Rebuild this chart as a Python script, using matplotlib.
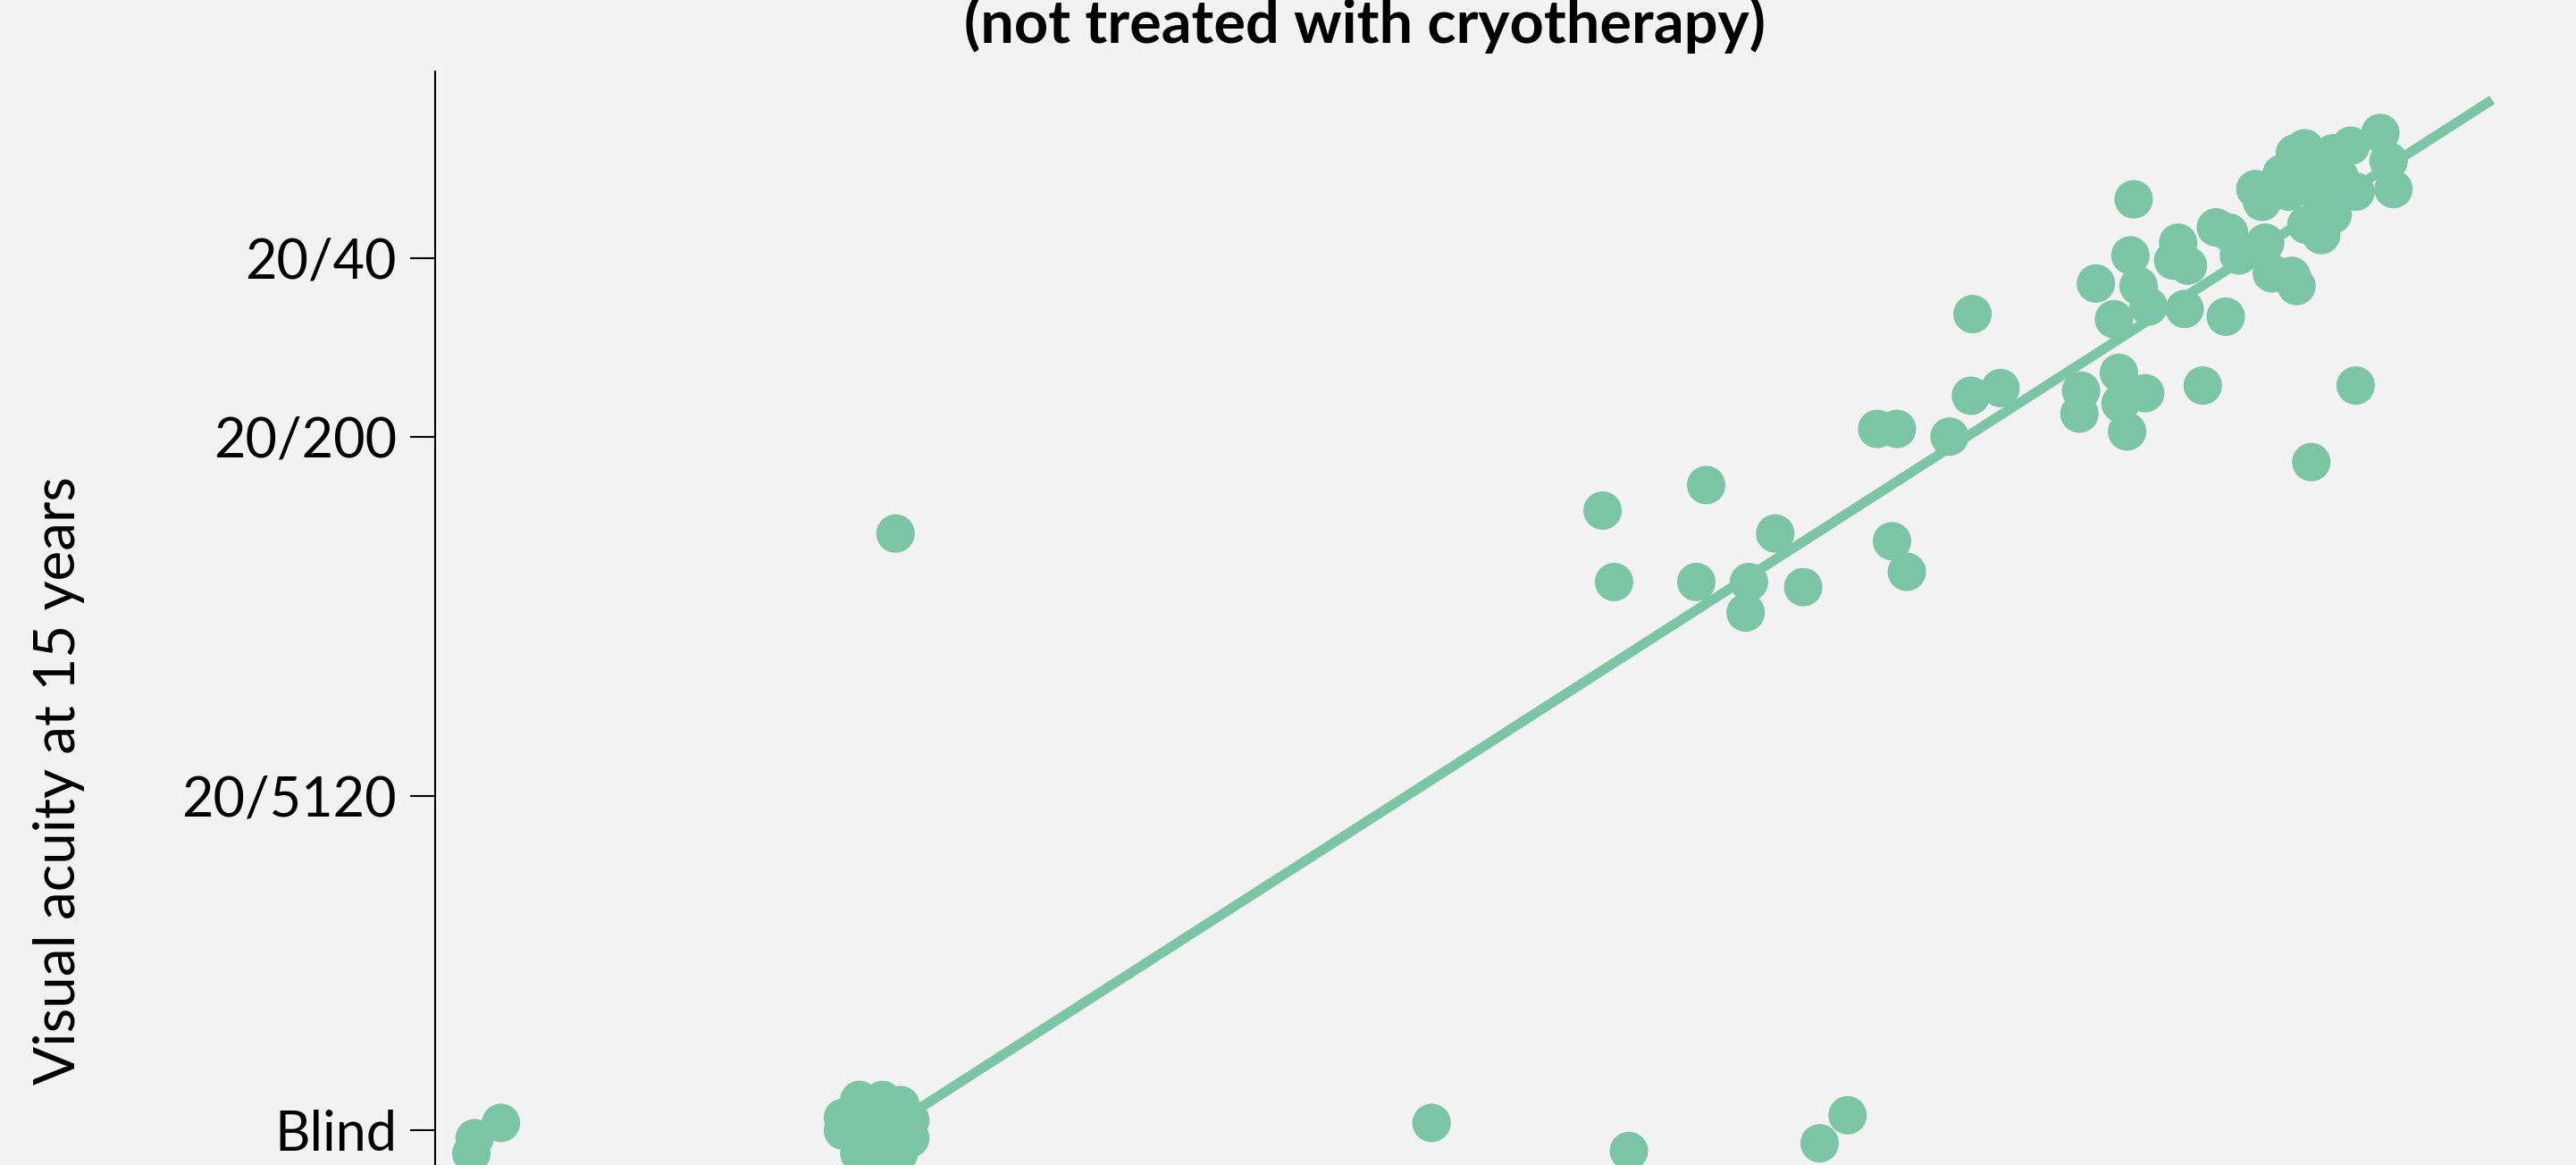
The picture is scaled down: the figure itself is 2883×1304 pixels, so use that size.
import matplotlib
matplotlib.use("Agg")
import matplotlib.pyplot as plt

# --- Data ---
# x: baseline score (arbitrary units), y: logMAR-style acuity at 15 years
upper_x = [10.33, 10.31, 10.10, 10.36, 10.42, 10.21, 10.64, 10.89, 10.60, 10.57,
           10.66, 10.83, 10.91, 10.97, 11.13, 11.17, 11.29, 11.32, 11.07, 11.11,
           11.23, 11.31, 11.37, 11.54, 11.65, 11.83, 11.88, 11.91, 11.68, 11.38,
           11.47, 11.47, 11.38, 11.45, 11.58, 11.27, 11.54]
upper_y = [0.07, 0.29, 0.40, 0.41, 0.49, 0.54, 0.50, 0.53, 0.24, 0.31,
           0.33, 0.18, 0.20, 0.29, 0.24, 0.36, 0.37, 0.41, 0.03, 0.08,
           -0.03, -0.11, -0.13, -0.11, -0.14, -0.19, -0.08, 0.03, 0.04, 0.17,
           0.21, 0.07, 0.00, -0.06, -0.02, 0.04, 0.13]

mid_x = [9.52, 10.01, 10.00, 10.24, 10.40, 10.25, 10.29, 10.75, 11.68, 11.41,
         9.35, 9.34, 8.77, 8.89, 9.21, 7.73, 7.10, 8.15, 8.86, 8.95,
         7.17, 7.67, 7.99, 8.32, 7.97, 2.80]
mid_y = [0.81, 0.82, 0.91, 0.75, 0.83, 0.87, 0.98, 0.80, 0.80, 1.10,
         0.52, 0.84, 0.97, 0.97, 1.00, 1.19, 1.29, 1.38, 1.41, 1.53,
         1.57, 1.57, 1.57, 1.59, 1.69, 1.38]

blind_x = [0.40, 0.24, 0.22,
           2.58, 2.72, 2.83, 2.48, 2.48, 2.89, 2.89, 2.58, 2.82, 2.71,
           2.68, 2.57, 2.79, 2.71,
           6.06, 7.26, 8.42, 8.59]
blind_y = [3.69, 3.75, 3.81,
           3.60, 3.60, 3.62, 3.67, 3.72, 3.68, 3.75, 3.81, 3.81, 3.84,
           3.71, 3.72, 3.71, 3.77,
           3.69, 3.80, 3.77, 3.66]

fit_x = [2.71, 12.51]
fit_y = [3.73, -0.32]

tick_vals = [0.3, 1.0, 2.408, 3.72]
tick_labels = ["20/40", "20/200", "20/5120", "Blind"]

GREEN = "#7bc5a6"
BG = "#f2f2f2"

plt.rcParams['font.family'] = ['Lato', 'DejaVu Sans']

fig = plt.figure(figsize=(28.83, 13.04), dpi=100, facecolor=BG)
ax = fig.add_axes([487 / 2883, 0.0, 1 - 487 / 2883, (1304 - 80) / 1304])
ax.set_facecolor(BG)

ax.plot(fit_x, fit_y, color=GREEN, lw=7.9, solid_capstyle='butt', zorder=2)
all_x = upper_x + mid_x + blind_x
all_y = upper_y + mid_y + blind_y
ax.scatter(all_x, all_y, s=960, color=GREEN, edgecolors='none', zorder=3,
           clip_on=False)

ax.set_xlim(0, 13.02)
ax.set_ylim(3.855, -0.431)

for side in ['top', 'right', 'bottom']:
    ax.spines[side].set_visible(False)
ax.spines['left'].set_linewidth(1.5)
ax.set_xticks([])
ax.set_yticks(tick_vals)
ax.set_yticklabels(tick_labels)
ax.tick_params(axis='y', length=20, width=1.5, pad=11, labelsize=44)

fig.text(0.530, 0.963, "(not treated with cryotherapy)", ha='center',
         va='baseline', fontsize=48, fontweight='bold')
fig.text(0.0229, 0.330, "Visual acuity at 15 years", rotation=90,
         ha='center', va='center', fontsize=46)

fig.savefig("out.png", dpi=100, facecolor=BG)
